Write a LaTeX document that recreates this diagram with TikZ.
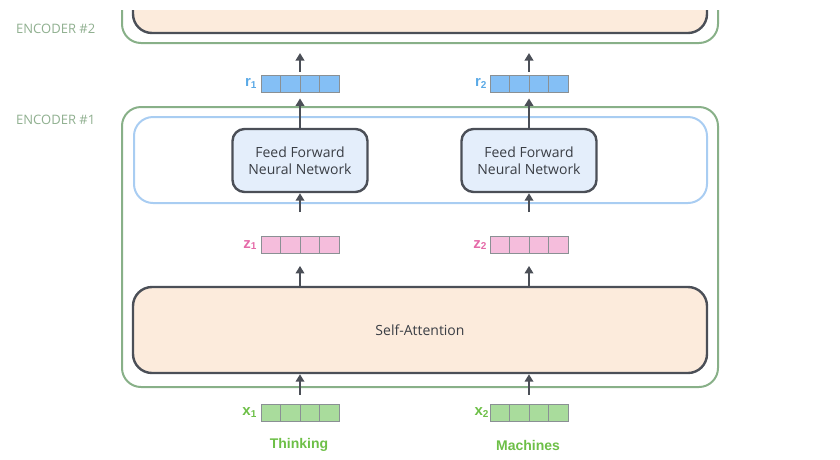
\documentclass[tikz,border=0pt]{standalone}
\usepackage{fontspec}
\setmainfont{Open Sans}
\newfontfamily\arialf{Liberation Sans}
\usetikzlibrary{arrows.meta,calc}
\definecolor{encgreen}{HTML}{88B088}
\definecolor{enclabel}{HTML}{8FAF8F}
\definecolor{ffnblue}{HTML}{A9CDF2}
\definecolor{darkc}{HTML}{4B4F57}
\definecolor{peach}{HTML}{FCEBDC}
\definecolor{ffnfill}{HTML}{E4EEFB}
\definecolor{rfill}{HTML}{84BFF5}
\definecolor{rlab}{HTML}{5AA9E6}
\definecolor{zfill}{HTML}{F5BDDC}
\definecolor{zlab}{HTML}{E56AA8}
\definecolor{xfill}{HTML}{A9DC9C}
\definecolor{xlab}{HTML}{6DBF47}
\definecolor{cellc}{HTML}{8A9094}
\definecolor{textc}{HTML}{3A3E45}
\newcommand{\sbs}[1]{{\fontsize{10}{10}\selectfont\raisebox{-1.5pt}{#1}}}
\begin{document}
\begin{tikzpicture}[x=1pt,y=-1pt,
  encbox/.style={draw=encgreen, line width=2pt, rounded corners=19pt, inner sep=0pt},
  layerbox/.style={draw=darkc, line width=2.4pt, rounded corners=19pt, fill=peach, inner sep=0pt,
    font=\fontsize{14}{16}\selectfont, text=textc},
  ffnlayer/.style={draw=ffnblue, line width=2pt, rounded corners=19pt, inner sep=0pt},
  ffnbox/.style={draw=darkc, line width=2.4pt, rounded corners=12pt, fill=ffnfill, inner sep=0pt,
    minimum width=135pt, minimum height=63pt, align=center,
    font=\fontsize{14}{17.5}\selectfont, text=textc},
  vec/.style={draw=cellc, line width=0.8pt, minimum width=78pt, minimum height=17pt, inner sep=0pt,
    path picture={\foreach \i in {1,2,3}{\draw[cellc,line width=0.8pt]
      ($(path picture bounding box.south west)!\i/4!(path picture bounding box.south east)$) --
      ($(path picture bounding box.north west)!\i/4!(path picture bounding box.north east)$);}}},
  veclab/.style={anchor=east, inner sep=0pt, font=\arialf\bfseries\fontsize{15}{15}\selectfont},
  enclab/.style={anchor=west, inner sep=0pt, text=enclabel, font=\fontsize{13}{15}\selectfont},
  word/.style={inner sep=0pt, text=xlab, font=\arialf\bfseries\fontsize{14}{16}\selectfont},
  arr/.style={draw=darkc, line width=2.2pt, -{Triangle[width=8.5pt,length=7.5pt]}}
]
\useasboundingbox (0,0) rectangle (840,459);

% Encoder #2 (cut at the top)
\begin{scope}
  \clip (0,10) rectangle (840,459);
  \node[encbox, minimum width=596pt, minimum height=80pt] (enc2) at (420,3) {};
  \node[layerbox, minimum width=574pt, minimum height=73pt] (sa2) at (420,-3.5) {};
\end{scope}
\node[enclab] (enc2l) at (16,29) {ENCODER \#2};

% Encoder #1
\node[encbox, minimum width=596pt, minimum height=280pt] (enc1) at (420,247) {};
\node[enclab] (enc1l) at (16,120) {ENCODER \#1};
\node[ffnlayer, minimum width=573pt, minimum height=86pt] (ffnl) at (420.5,160) {};
\node[ffnbox] (ffn1) at (300,160.5) {Feed Forward\\Neural Network};
\node[ffnbox] (ffn2) at (529,160.5) {Feed Forward\\Neural Network};
\node[layerbox, minimum width=574pt, minimum height=86pt] (sa) at (420,330) {Self-Attention};

% vectors
\node[vec, fill=rfill] (r1) at (300,83.5) {};
\node[vec, fill=rfill] (r2) at (529,83.5) {};
\node[vec, fill=zfill] (z1) at (300,245) {};
\node[vec, fill=zfill] (z2) at (529,245) {};
\node[vec, fill=xfill] (x1) at (300,412.5) {};
\node[vec, fill=xfill] (x2) at (529,412.5) {};

\node[veclab, text=rlab] (r1l) at ([xshift=-4pt]r1.west) {r\sbs{1}};
\node[veclab, text=rlab] (r2l) at ([xshift=-3pt]r2.west) {r\sbs{2}};
\node[veclab, text=zlab] (z1l) at ([xshift=-4pt]z1.west) {z\sbs{1}};
\node[veclab, text=zlab] (z2l) at ([xshift=-3pt]z2.west) {z\sbs{2}};
\node[veclab, text=xlab] (x1l) at ([xshift=-4pt]x1.west) {x\sbs{1}};
\node[veclab, text=xlab] (x2l) at ([xshift=-1pt]x2.west) {x\sbs{2}};

\node[word] (w1) at (299,445) {Thinking};
\node[word] (w2) at (528,445) {Machines};

% arrows
\foreach \c in {1,2}{
  \draw[arr, shorten <=3pt, shorten >=9pt] (r\c.north) -- (r\c.north |- enc2.south);
  \draw[arr, shorten >=6pt] (ffn\c.north) -- (r\c.south);
  \draw[arr, shorten <=24pt] (z\c.north) -- (ffn\c.south);
  \draw[arr, shorten >=12pt] (z\c.south |- sa.north) -- (z\c.south);
  \draw[arr, shorten <=9pt] (x\c.north) -- (x\c.north |- sa.south);
}
\end{tikzpicture}
\end{document}
